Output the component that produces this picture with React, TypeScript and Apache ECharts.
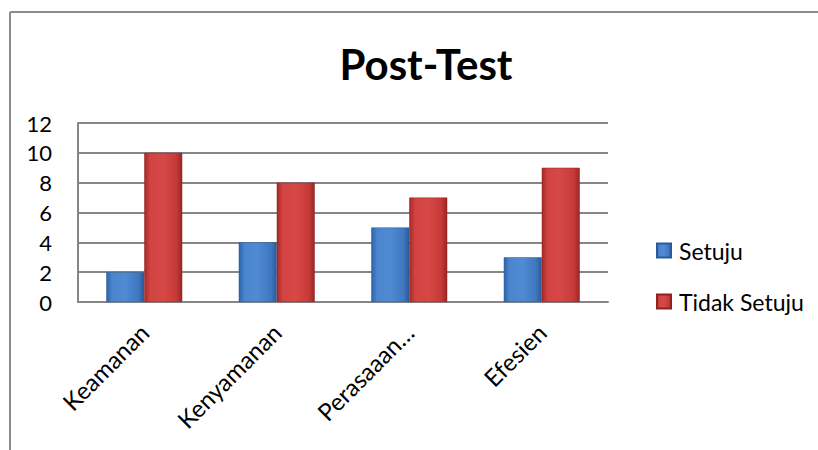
import React, { useEffect, useRef } from "react";
import * as echarts from "echarts";

const categories = ["Keamanan", "Kenyamanan", "Perasaaan…", "Efesien"];
const setuju = [2, 4, 5, 3];
const tidakSetuju = [10, 8, 7, 9];
const seriesNames = ["Setuju", "Tidak Setuju"];

const FONT = "Lato, 'Open Sans', sans-serif";

const blueGrad = () =>
  new echarts.graphic.LinearGradient(0, 0, 1, 0, [
    { offset: 0, color: "#2f63a8" },
    { offset: 0.15, color: "#4a86cf" },
    { offset: 0.5, color: "#4f8ad3" },
    { offset: 0.85, color: "#3f78c0" },
    { offset: 1, color: "#2a5a99" },
  ]);
const redGrad = () =>
  new echarts.graphic.LinearGradient(0, 0, 1, 0, [
    { offset: 0, color: "#a52a28" },
    { offset: 0.15, color: "#d24341" },
    { offset: 0.5, color: "#d64846" },
    { offset: 0.85, color: "#c53a38" },
    { offset: 1, color: "#9a2624" },
  ]);

export default function App() {
  const ref = useRef<HTMLDivElement>(null);
  useEffect(() => {
    if (!ref.current) return;
    const chart = echarts.init(ref.current, null, { renderer: "svg" });
    chart.setOption({
      animation: false,
      backgroundColor: "#ffffff",
      title: {
        text: "Post-Test",
        left: 421,
        textAlign: "center",
        top: 38,
        textStyle: { fontFamily: FONT, fontWeight: "bold", fontSize: 42, color: "#000" },
      },
      graphic: [
        { type: "line", shape: { x1: 10, y1: 12, x2: 818, y2: 12 }, style: { stroke: "#8c8c8c", lineWidth: 2 } },
        { type: "line", shape: { x1: 10, y1: 12, x2: 10, y2: 450 }, style: { stroke: "#8c8c8c", lineWidth: 2 } },
      ],
      legend: {
        orient: "vertical",
        left: 651,
        top: 234,
        itemWidth: 14,
        itemHeight: 14,
        itemGap: 28,
        icon: "rect",
        textStyle: { fontFamily: FONT, fontSize: 23, color: "#000", padding: [0, 0, 0, 3] },
        data: seriesNames,
      },
      grid: { left: 78, right: 210, top: 123, bottom: 148 },
      xAxis: {
        type: "category",
        data: categories,
        axisLine: { show: true, lineStyle: { color: "#868686", width: 2 } },
        axisTick: { show: false },
        axisLabel: {
          rotate: 45,
          interval: 0,
          margin: 26,
          fontFamily: FONT,
          fontSize: 24,
          color: "#000",
        },
      },
      yAxis: {
        type: "value",
        min: 0,
        max: 12,
        interval: 2,
        axisLine: { show: true, lineStyle: { color: "#868686", width: 2 } },
        axisTick: { show: false },
        axisLabel: { margin: 26, fontFamily: FONT, fontSize: 22, color: "#000" },
        splitLine: { show: true, lineStyle: { color: "#868686", width: 2 } },
      },
      series: [
        {
          name: seriesNames[0],
          type: "bar",
          data: setuju,
          barWidth: 38,
          barGap: "0%",
          itemStyle: { color: blueGrad(), borderColor: "#2a5a99", borderWidth: 0.5 },
        },
        {
          name: seriesNames[1],
          type: "bar",
          data: tidakSetuju,
          barWidth: 38,
          barGap: "0%",
          itemStyle: { color: redGrad(), borderColor: "#8e2220", borderWidth: 0.5 },
        },
      ],
    });
    return () => chart.dispose();
  }, []);
  return (
    <div
      ref={ref}
      style={{ position: "fixed", left: 0, top: 0, width: 818, height: 450 }}
    />
  );
}
